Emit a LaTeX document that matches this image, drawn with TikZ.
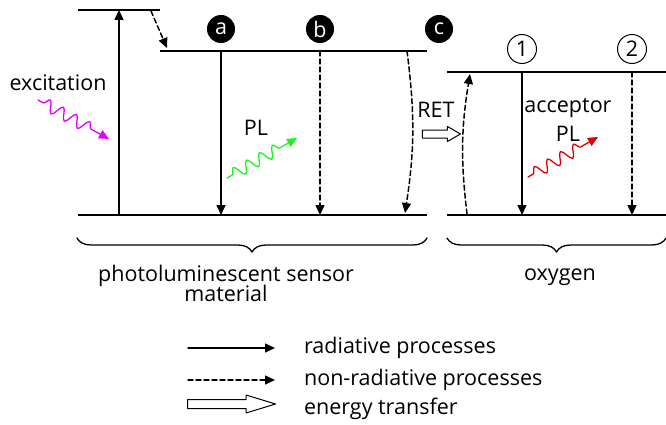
\documentclass[tikz,border=0pt]{standalone}
\usepackage{fontspec}
\setmainfont{Open Sans}
\usetikzlibrary{positioning,arrows.meta,shapes.arrows,decorations.pathmorphing,decorations.pathreplacing}
\definecolor{excviolet}{RGB}{224,0,255}
\definecolor{plgreen}{RGB}{30,245,30}
\definecolor{accred}{RGB}{225,0,0}
\begin{document}
\begin{tikzpicture}[x=1pt, y=-1pt, line cap=round, line join=round, font=\fontsize{21.5}{24}\selectfont,
    >={Stealth[length=10pt,width=9pt,inset=0pt]}, line width=1.5pt]
	\tikzset{lvl/.style={line width=1.5pt, line cap=butt},
		nonrad/.style={->, dash pattern=on 5pt off 3pt},
		photon/.style={->, line width=1.3pt, decorate, decoration={snake, segment length=15pt, amplitude=6pt, pre length=6pt, post length=17pt}},
		statemark/.style={circle, fill=black, text=white, minimum size=28pt, inner sep=0pt},
		ostatemark/.style={circle, draw, line width=1pt, minimum size=29pt, inner sep=0pt},
		transfer/.style={single arrow, draw, line width=1pt, fill=white, inner xsep=0pt},
		brc/.style={decorate, line width=1.3pt, decoration={brace, mirror, amplitude=14pt}}}
	\useasboundingbox (0,0) rectangle (666,425);
	% energy levels
	\coordinate (S2) at (78,10);   \coordinate (S2e) at (160,10);
	\coordinate (S1) at (160,51);  \coordinate (S1e) at (427,51);
	\coordinate (S0) at (78,215);  \coordinate (S0e) at (427,215);
	\coordinate (T1) at (447,72);  \coordinate (T1e) at (666,72);
	\coordinate (T0) at (447,215); \coordinate (T0e) at (666,215);
	\draw[lvl] (S2)--(S2e) (S1)--(S1e) (S0)--(S0e) (T1)--(T1e) (T0)--(T0e);
	% markers
	\node[statemark] (a) at (221,29) {a};
	\node[statemark] (b) at (320,29) {b};
	\node[statemark] (c) at (439,29) {c};
	\node[ostatemark] (one) at (522,49) {1};
	\node[ostatemark] (two) at (632,49) {2};
	% transitions
	\draw[->] (119,215) -- (119,10);
	\draw[nonrad] (151,11) -- (167,48);
	\draw[->] (a |- S1) -- (a |- S0);
	\draw[nonrad] (b |- S1) -- (b |- S0);
	\draw[nonrad] (407,51) to[bend left=8] (405,213);
	\draw[nonrad] (467,214) to[bend left=8] (470,74);
	\draw[->] (one |- T1) -- (one |- T0);
	\draw[nonrad] (two |- T1) -- (two |- T0);
	% photons
	\node (exc) at (58,83) {excitation};
	\draw[photon, excviolet] (38,100) -- (109,139);
	\node (pl) at (256,128) {PL};
	\draw[photon, plgreen] (227,178) -- (297,138);
	\node (acc) at (568,108) {acceptor};
	\node (apl) at (568,134) {PL};
	\draw[photon, accred] (528,177) -- (598,137);
	% energy transfer
	\node (ret) at (436,110) {RET};
	\node[transfer, inner ysep=3.5pt, single arrow head extend=3.5pt, single arrow tip angle=60, minimum height=38pt] (retarrow) at (438,134) {};
	% braces
	\draw[brc] (77,238) -- (427,238);
	\draw[brc] (447,238) -- (666,238);
	\node[align=center] (sensor) at (226,283) {photoluminescent sensor\\[-4pt]material};
	\node (oxy) at (560,277) {oxygen};
	% legend
	\node[anchor=west] (lrad) at (300,348) {radiative processes};
	\node[anchor=west] (lnon) at (300,380) {non-radiative processes};
	\node[anchor=west] (let) at (300,409) {energy transfer};
	\coordinate (r0) at (188,348);
	\coordinate (n0) at (188,380);
	\draw[->, shorten >=25pt] (r0) -- (r0 -| lrad.west);
	\draw[nonrad, shorten >=25pt] (n0) -- (n0 -| lnon.west);
	\node[transfer, inner ysep=4pt, single arrow head extend=4.5pt, single arrow tip angle=34, minimum height=88pt, anchor=west] (larrow) at (187,404) {};
\end{tikzpicture}
\end{document}
